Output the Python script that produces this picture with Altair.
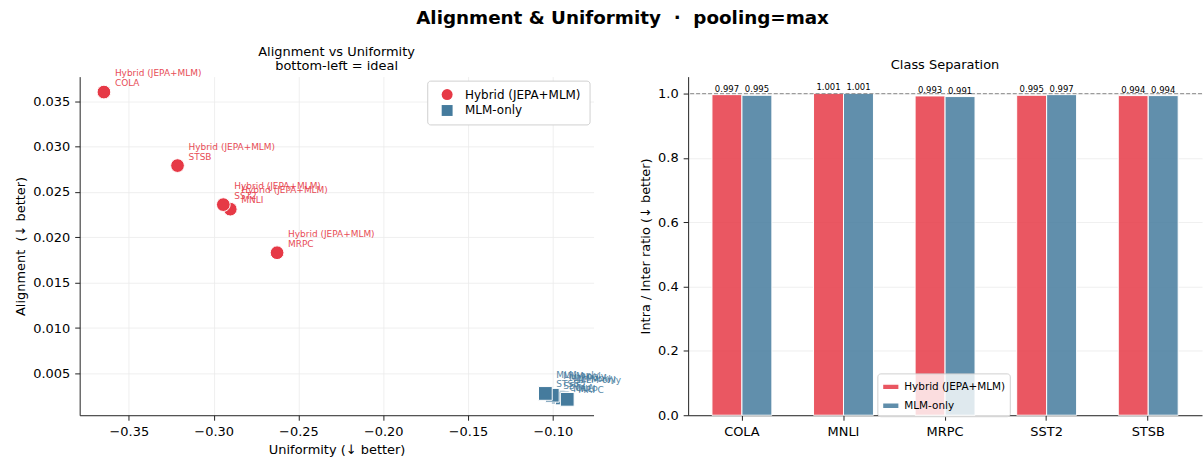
import altair as alt
import pandas as pd

tasks = ["COLA", "MNLI", "MRPC", "SST2", "STSB"]
models = ["Hybrid (JEPA+MLM)", "MLM-only"]
colors = ["#e63946", "#457b9d"]

hybrid_uniformity = [-0.3647, -0.2902, -0.2626, -0.2943, -0.3213]
hybrid_alignment = [0.0360, 0.0231, 0.0183, 0.0236, 0.0279]
mlm_uniformity = [-0.0968, -0.0944, -0.0915, -0.1003, -0.1044]
mlm_alignment = [0.0024, 0.0023, 0.00215, 0.0026, 0.0028]
hybrid_ratio = [0.997, 1.001, 0.993, 0.995, 0.994]
mlm_ratio = [0.995, 1.001, 0.991, 0.997, 0.994]

x_ticks = [-0.35, -0.30, -0.25, -0.20, -0.15, -0.10]
y_ticks = [0.005, 0.010, 0.015, 0.020, 0.025, 0.030, 0.035]
ratio_ticks = [0.0, 0.2, 0.4, 0.6, 0.8, 1.0]

rows = []
for i, t in enumerate(tasks):
    rows.append(dict(task=t, model=models[0], uniformity=hybrid_uniformity[i],
                     alignment=hybrid_alignment[i], ratio=hybrid_ratio[i]))
for i, t in enumerate(tasks):
    rows.append(dict(task=t, model=models[1], uniformity=mlm_uniformity[i],
                     alignment=mlm_alignment[i], ratio=mlm_ratio[i]))
df = pd.DataFrame(rows)
df["label"] = df["model"] + "\n" + df["task"]

FONT = "DejaVu Sans"
NB = "\u00a0"
color_scale = alt.Scale(domain=models, range=colors)

x_enc = alt.X("uniformity:Q",
              scale=alt.Scale(domain=[-0.379, -0.076], nice=False, zero=False),
              axis=alt.Axis(values=x_ticks, format=".2f", title="Uniformity (↓ better)", grid=True))
y_enc = alt.Y("alignment:Q",
              scale=alt.Scale(domain=[0.0004, 0.0377], nice=False, zero=False),
              axis=alt.Axis(values=y_ticks, format=".3f", title="Alignment" + NB + " (↓ better)", grid=True))

points = alt.Chart(df).mark_point(filled=True, opacity=1, stroke="white", strokeWidth=1, size=190).encode(
    x=x_enc, y=y_enc,
    color=alt.Color("model:N", scale=color_scale,
                    legend=alt.Legend(title=None, orient="top-right", offset=4, labelFontSize=12,
                                      labelFont=FONT, symbolSize=120, padding=8, rowPadding=4,
                                      labelOffset=12, symbolOffset=6,
                                      strokeColor="#d0d0d0", fillColor="white", cornerRadius=3,
                                      symbolStrokeWidth=0)),
    shape=alt.Shape("model:N", scale=alt.Scale(domain=models, range=["circle", "square"]), legend=alt.Legend(title=None)),
)

labels = alt.Chart(df).mark_text(align="left", baseline="middle", dx=11, dy=-19, fontSize=9,
                                 lineBreak="\n", lineHeight=10, opacity=0.9, font=FONT).encode(
    x=x_enc, y=y_enc, text="label:N",
    color=alt.Color("model:N", scale=color_scale, legend=None),
)

left = alt.layer(points, labels).properties(
    width=516, height=340,
    title=alt.TitleParams(["Alignment vs Uniformity", "bottom-left = ideal"], fontSize=13,
                          fontWeight="normal", font=FONT, lineHeight=14, offset=-2, dy=2),
)

x_bar = alt.X("task:N", scale=alt.Scale(paddingInner=0.41, paddingOuter=0.2345),
              axis=alt.Axis(title=None, labelAngle=0, grid=False, labelFontSize=13))
xo_bar = alt.XOffset("model:N", scale=alt.Scale(domain=models, paddingInner=0, paddingOuter=0))
y_bar = alt.Y("ratio:Q", scale=alt.Scale(domain=[0, 1.053], nice=False),
              axis=alt.Axis(values=ratio_ticks, format=".1f", title="Intra / Inter ratio (↓ better)", grid=True))

bars = alt.Chart(df).mark_bar(fillOpacity=0.85, stroke="white", strokeWidth=1).encode(
    x=x_bar, xOffset=xo_bar, y=y_bar,
    color=alt.Color("model:N", scale=color_scale,
                    legend=alt.Legend(title=None, orient="none", legendX=190, legendY=298,
                                      labelFontSize=10.5, labelFont=FONT, padding=4, rowPadding=3,
                                      symbolType="M-1,-0.35L1,-0.35L1,0.35L-1,0.35Z", symbolSize=280,
                                      symbolOpacity=0.85,
                                      strokeColor="#d0d0d0", fillColor="rgba(255,255,255,0.8)",
                                      cornerRadius=3)),
)

ref = alt.Chart(pd.DataFrame({"ref": [1.0]})).mark_rule(strokeDash=[4, 2], color="#888888", strokeWidth=1).encode(
    y="ref:Q"
)

vals = alt.Chart(df).mark_text(baseline="bottom", dy=-1, fontSize=8.5, font=FONT, color="black").encode(
    x=x_bar, xOffset=xo_bar, y=y_bar, text=alt.Text("ratio:Q", format=".3f")
)

right = alt.layer(bars, ref, vals).properties(
    width=516, height=340,
    title=alt.TitleParams("Class Separation", fontSize=13, fontWeight="normal", font=FONT, offset=5),
)

chart = alt.hconcat(left, right, spacing=95, bounds="flush").resolve_scale(
    color="independent", shape="independent", xOffset="independent", x="independent", y="independent"
).properties(
    title=alt.TitleParams("Alignment & Uniformity" + NB + NB + "·" + NB + NB + "pooling=max", fontSize=18.4,
                          fontWeight="bold", font=FONT, anchor="middle", offset=19, dx=14),
    padding={"left": 14, "right": 0, "top": 8, "bottom": 0},
).configure_view(stroke=None).configure_axis(
    labelFont=FONT, titleFont=FONT, labelFontSize=13, titleFontSize=13, titleFontWeight="normal",
    labelColor="black", titleColor="black", domainColor="#222222", domainWidth=1,
    tickColor="#222222", tickWidth=1, tickSize=5, gridColor="#ebebeb", gridWidth=0.8,
    labelPadding=5, titlePadding=5,
).configure_legend(labelColor="black")

chart.save("out.html", embed_options={"renderer": "svg", "actions": False})
